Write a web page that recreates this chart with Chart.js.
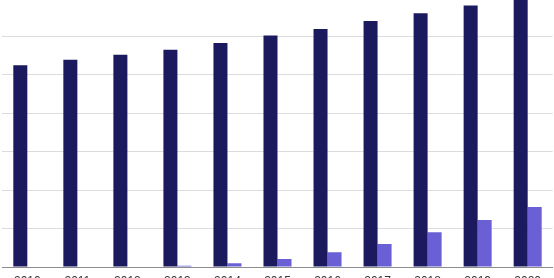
<!DOCTYPE html>
<html>
<head>
<meta charset="utf-8">
<script src="https://cdn.jsdelivr.net/npm/chart.js@4/dist/chart.umd.min.js"></script>
<style>
  html, body { margin: 0; padding: 0; background: #fff; overflow: hidden; }
  body { width: 554px; height: 278px; position: relative; }
  .wrap { position: absolute; left: 0; top: -41px; width: 554px; height: 338px; }
</style>
</head>
<body>
<div class="wrap"><canvas id="barChart"></canvas></div>
<script>
// ===== Dữ liệu =====
const categories = ["2010", "2011", "2012", "2013", "2014", "2015", "2016", "2017", "2018", "2019", "2020"];
const totalValues = [524, 538, 551, 564, 582, 601, 618, 639, 659, 679, 705];
const newValues = [0, 0, 0, 3, 10, 21, 38, 60, 90, 122, 156];
const yTicks = [0, 100, 200, 300, 400, 500, 600, 700, 800];

const ctx = document.getElementById("barChart");
new Chart(ctx, {
  type: "bar",
  data: {
    labels: categories,
    datasets: [
      {
        label: "Total",
        data: totalValues,
        backgroundColor: "#1c1a5e",
        categoryPercentage: 0.56,
        barPercentage: 1.0,
      },
      {
        label: "New",
        data: newValues,
        backgroundColor: "#6b5fd6",
        categoryPercentage: 0.56,
        barPercentage: 1.0,
      },
    ],
  },
  options: {
    responsive: true,
    maintainAspectRatio: false,
    animation: false,
    layout: { padding: { left: 2.3, right: 1.3, top: 0, bottom: 0 } },
    plugins: { legend: { display: false }, tooltip: { enabled: false } },
    scales: {
      x: {
        grid: { display: false, drawTicks: false, tickLength: 0 },
        border: { display: true, color: "#8c8c8c", width: 1 },
        ticks: {
          color: "#333",
          padding: 7,
          font: { family: "Liberation Sans", size: 12 },
          maxRotation: 0,
        },
        afterFit: (scale) => { scale.height = 30; },
      },
      y: {
        min: yTicks[0],
        max: yTicks[yTicks.length - 1],
        afterBuildTicks: (scale) => { scale.ticks = yTicks.map((v) => ({ value: v })); },
        grid: { color: "#dcdcdc", drawTicks: false },
        border: { display: false },
        ticks: { display: false },
        afterFit: (scale) => { scale.width = 0; },
      },
    },
  },
});
</script>
</body>
</html>
